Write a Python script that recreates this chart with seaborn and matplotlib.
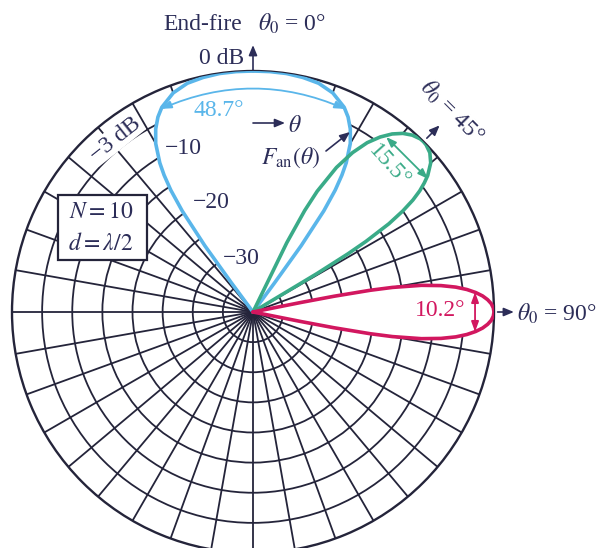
import numpy as np
import matplotlib
matplotlib.use("Agg")
import matplotlib.pyplot as plt
from matplotlib.patches import Rectangle, FancyArrowPatch
import seaborn as sns

# Main-lobe normalized array patterns F_an(theta) in dB, N = 10, d = lambda/2.
# theta is measured (degrees) from the array axis; -40 dB sits at the pole.
endfire_theta = [-36.87, -36.5, -36, -35, -34, -33, -32, -30, -28, -26, -24, -20, -16,
                 -12, -8, -4, 0, 4, 8, 12, 16, 20, 24, 26, 28, 30, 32, 33, 34, 35, 36,
                 36.5, 36.87]
endfire_db = [-40, -34.0, -26.4, -19.5, -15.6, -12.9, -10.8, -7.7, -5.6, -4.0, -2.8, -1.3,
              -0.5, -0.2, -0.03, 0.0, 0.0, 0.0, -0.03, -0.2, -0.5, -1.3, -2.8, -4.0, -5.6,
              -7.7, -10.8, -12.9, -15.6, -19.5, -26.4, -34.0, -40]

scan45_theta = [25, 26, 27, 28, 30, 32, 34, 36, 38, 40, 42, 44, 45, 46, 48, 50, 52, 53,
                54, 55, 56, 57, 58, 58.5, 59, 59.4]
scan45_db = [-40, -27.2, -21.1, -17.3, -12.3, -8.8, -6.1, -4.1, -2.5, -1.3, -0.5, -0.05,
             0.0, -0.06, -0.5, -1.5, -3.2, -4.4, -5.8, -7.6, -10.0, -13.1, -17.9, -21.5,
             -27.6, -40]

broadside_theta = [78.5, 78.75, 79, 79.5, 80, 81, 82, 83, 84, 85, 86, 87, 88, 89, 90, 91,
                   92, 93, 94, 95, 96, 97, 98, 99, 100, 100.5, 101, 101.25, 101.5]
broadside_db = [-40, -31.9, -26.3, -20.2, -16.5, -11.7, -8.5, -6.1, -4.3, -2.9, -1.8, -1.0,
                -0.43, -0.11, 0.0, -0.11, -0.43, -1.0, -1.8, -2.9, -4.3, -6.1, -8.5, -11.7,
                -16.5, -20.2, -26.3, -31.9, -40]

# Half-power beamwidths (degrees) and scan directions
scan_angles = [0, 45, 90]
beamwidths = [48.7, 15.5, 10.2]
ring_labels = ["\u221210", "\u221220", "\u221230"]

FLOOR_DB = -40.0
HALF_POWER_DB = -3.0

BLUE = "#5ab6ea"
GREEN = "#3aab88"
RED = "#d2175f"
NAVY = "#2c2d58"
GRID = "#24243a"

W, H = 606, 548

sns.set_theme(style="white")
plt.rcParams["font.family"] = ["Liberation Serif", "DejaVu Serif"]
plt.rcParams["mathtext.fontset"] = "stix"

fig = plt.figure(figsize=(W / 100, H / 100), dpi=100)
fig.patch.set_facecolor("white")

cx, cy, R = 253, 312, 241
ax = fig.add_axes([(cx - R) / W, (H - cy - R) / H, 2 * R / W, 2 * R / H],
                  projection="polar")
ax.set_facecolor("white")
ax.set_theta_zero_location("N")
ax.set_theta_direction(-1)
ax.set_ylim(0, -FLOOR_DB)
ax.set_rticks(np.arange(5, 40, 5))
ax.set_thetagrids(np.arange(0, 360, 10), labels=[])
ax.set_yticklabels([])
ax.tick_params(length=0)
ax.set_axisbelow(True)
ax.grid(True, color=GRID, lw=1.3)
ax.spines["polar"].set_color(GRID)
ax.spines["polar"].set_linewidth(1.7)


def to_r(db):
    return np.asarray(db, dtype=float) - FLOOR_DB


lobes = [(endfire_theta, endfire_db, BLUE),
         (scan45_theta, scan45_db, GREEN),
         (broadside_theta, broadside_db, RED)]

# white interiors hide the grid under each lobe
for th, db, col in lobes:
    ax.fill(np.deg2rad(th), to_r(db), color="white", zorder=2)
for th, db, col in lobes:
    sns.lineplot(x=np.deg2rad(th), y=to_r(db), ax=ax, sort=False, estimator=None,
                 color=col, linewidth=2.6, zorder=3, legend=False)
ax.set_xlabel("")
ax.set_ylabel("")

FS = 17
r3 = to_r(HALF_POWER_DB)


def px(x, y):
    return (x / W, 1 - y / H)


def ftext(x, y, s, **kw):
    kw.setdefault("color", NAVY)
    kw.setdefault("fontsize", FS)
    kw.setdefault("ha", "center")
    kw.setdefault("va", "center")
    return fig.text(*px(x, y), s, **kw)


def farrow(x1, y1, x2, y2, color=NAVY):
    fig.add_artist(FancyArrowPatch(
        px(x1, y1), px(x2, y2), transform=fig.transFigure,
        arrowstyle="-|>,head_length=0.6,head_width=0.25", mutation_scale=10,
        color=color, lw=1.2, shrinkA=0, shrinkB=0))


HEADS = "<|-|>,head_length=0.6,head_width=0.22"

# beamwidth markers at the -3 dB level
bw_e, bw_45, bw_b = beamwidths
ax.annotate("", xy=(np.deg2rad(bw_e / 2), r3), xytext=(np.deg2rad(-bw_e / 2), r3),
            arrowprops=dict(arrowstyle=HEADS, mutation_scale=10, color=BLUE, lw=1.3,
                            connectionstyle="arc3,rad=-0.216", shrinkA=0, shrinkB=0),
            zorder=4)
ax.annotate("", xy=(np.deg2rad(scan_angles[1] + bw_45 / 2), r3 - 0.5),
            xytext=(np.deg2rad(scan_angles[1] - bw_45 / 2), r3 - 0.5),
            arrowprops=dict(arrowstyle=HEADS, mutation_scale=10, color=GREEN, lw=1.3,
                            shrinkA=0, shrinkB=0),
            zorder=4)
ax.annotate("", xy=(np.deg2rad(scan_angles[2] + bw_b / 2), r3),
            xytext=(np.deg2rad(scan_angles[2] - bw_b / 2), r3),
            arrowprops=dict(arrowstyle=HEADS, mutation_scale=10, color=RED, lw=1.3,
                            shrinkA=0, shrinkB=0),
            zorder=4)

# scan-direction arrows just outside the 0 dB circle
for ang, r_in, r_out in [(scan_angles[0], 40.2, 44.3), (scan_angles[1], 40.8, 43.8),
                         (scan_angles[2], 40.6, 43.3)]:
    ax.annotate("", xy=(np.deg2rad(ang), r_out), xytext=(np.deg2rad(ang), r_in),
                annotation_clip=False,
                arrowprops=dict(arrowstyle="-|>,head_length=0.6,head_width=0.25",
                                mutation_scale=10, color=NAVY, lw=1.2,
                                shrinkA=0, shrinkB=0))

# labels
ftext(242, 24, "End-fire", ha="right")
ftext(258, 24, r"$\theta_0$ = 0°", ha="left")
ftext(222, 58, "0 dB")
ftext(219, 111, f"{bw_e}°", color=BLUE)
farrow(253, 123, 285, 123)
ftext(295, 126, r"$\theta$")
ftext(291, 158, r"$F_{\rm an}(\theta)$")
farrow(326, 151, 350, 132)
for (x, y), s in zip([(183, 148), (211, 203), (241, 259)], ring_labels):
    ftext(x, y, s)
ftext(115, 139, "\u22123 dB", rotation=38.5,
      bbox=dict(boxstyle="square,pad=0.05", fc="white", ec="none"))
ftext(389, 166, f"{bw_45}°", color=GREEN, rotation=-48)
ftext(452, 112, r"$\theta_0$ = 45°", rotation=-45)
ftext(440, 311, f"{bw_b}°", color=RED)
ftext(517, 314, r"$\theta_0$ = 90°", ha="left")

# parameter box
fig.add_artist(Rectangle(px(58, 260), 89 / W, 65 / H, transform=fig.transFigure,
                         facecolor="white", edgecolor=GRID, lw=1.6, zorder=2))
ftext(101, 212, r"$N = 10$")
ftext(101, 244, r"$d = \lambda/2$")

fig.savefig("out.png", dpi=100, facecolor="white")
